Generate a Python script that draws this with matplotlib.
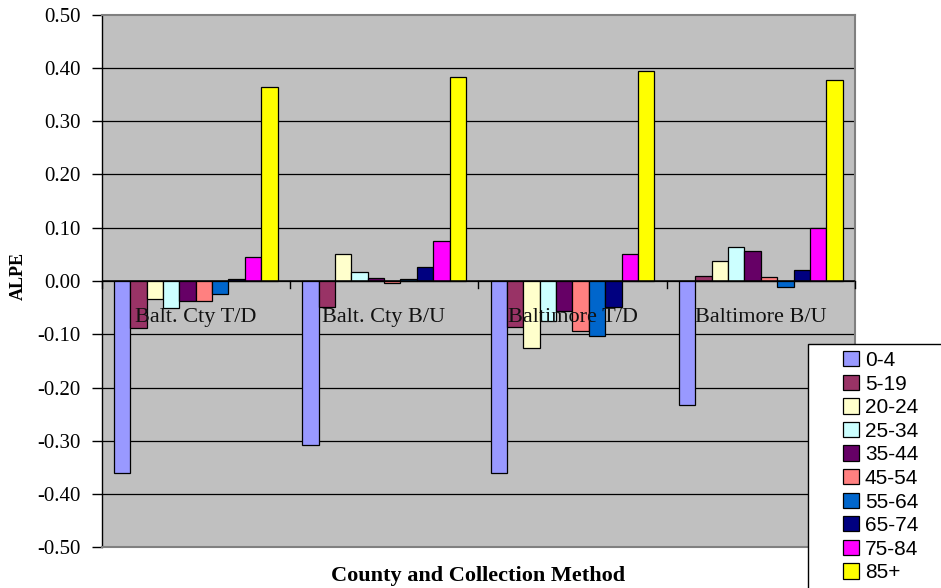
import numpy as np
import matplotlib
matplotlib.use("Agg")
import matplotlib.pyplot as plt
from matplotlib.patches import Patch, Rectangle

# data
categories = ["Balt. Cty T/D", "Balt. Cty B/U", "Baltimore T/D", "Baltimore B/U"]
age_groups = ["0-4", "5-19", "20-24", "25-34", "35-44", "45-54", "55-64", "65-74", "75-84", "85+"]
alpe = {
    "0-4":   [-0.360, -0.308, -0.360, -0.233],
    "5-19":  [-0.088, -0.049, -0.086, 0.009],
    "20-24": [-0.033, 0.050, -0.125, 0.038],
    "25-34": [-0.050, 0.017, -0.075, 0.064],
    "35-44": [-0.038, 0.006, -0.056, 0.056],
    "45-54": [-0.038, -0.004, -0.093, 0.008],
    "55-64": [-0.025, 0.004, -0.103, -0.011],
    "65-74": [0.003, 0.027, -0.049, 0.020],
    "75-84": [0.045, 0.076, 0.050, 0.099],
    "85+":   [0.365, 0.383, 0.395, 0.378],
}
yticks = [-0.5, -0.4, -0.3, -0.2, -0.1, 0.0, 0.1, 0.2, 0.3, 0.4, 0.5]

colors = ["#9999FF", "#993366", "#FFFFCC", "#CCFFFF", "#660066",
          "#FF8080", "#0066CC", "#000080", "#FF00FF", "#FFFF00"]

W, H = 941, 588
fig = plt.figure(figsize=(W / 100, H / 100), dpi=100)
ax = fig.add_axes((101.5 / W, 1 - 547.3 / H, (855 - 101.5) / W, (547.3 - 14.7) / H))
ax.set_facecolor("#C0C0C0")

n = len(age_groups)
bw = 1 / (n + 1.5)  # excel gap width 150%
x0 = np.arange(len(categories))
for i, (grp, col) in enumerate(zip(age_groups, colors)):
    xs = x0 + 0.75 * bw + i * bw
    ax.bar(xs, alpe[grp], width=bw, align="edge", color=col,
           edgecolor="black", linewidth=0.9, zorder=3)

ax.set_xlim(0, len(categories))
ax.set_ylim(-0.5, 0.5)

# gridlines
for v in yticks[1:-1]:
    ax.axhline(v, color="black", lw=0.9, zorder=1)
ax.axhline(0, color="black", lw=1.1, zorder=4)
for k in range(len(categories) + 1):
    ax.plot([k, k], [0, -0.013], color="black", lw=1, zorder=4, clip_on=False)

# category labels sit inside the plot
serif = ["Liberation Serif", "DejaVu Serif"]
for k, cat in enumerate(categories):
    ax.text(k + 0.5, -0.0765, cat, ha="center", va="baseline",
            fontsize=16, family=serif, color="#111111", zorder=5)

ax.set_xticks([])
ax.set_yticks(yticks)
ax.set_yticklabels([f"{v:.2f}" for v in yticks], family=serif, fontsize=15)
ax.tick_params(axis="y", direction="out", length=7, width=1, pad=8)

for side in ["top", "right", "bottom"]:
    ax.spines[side].set_color("#808080")
    ax.spines[side].set_linewidth(1.5)
ax.spines["left"].set_color("black")
ax.spines["left"].set_linewidth(1)

fig.text(18.5 / W, 1 - 276 / H, "ALPE", rotation=90, ha="center", va="center",
         family=serif, fontweight="bold", fontsize=13)
fig.text(478 / W, 1 - 576 / H, "County and Collection Method", ha="center", va="center",
         family=serif, fontweight="bold", fontsize=16)

# legend box runs off the right and bottom edge like in the original
box = Rectangle((808 / W, -0.01), (W + 10 - 808) / W, 1.01 - 344 / H,
                transform=fig.transFigure, facecolor="white", edgecolor="black",
                linewidth=1, zorder=10)
fig.patches.append(box)

handles = [Patch(facecolor=c, edgecolor="black", linewidth=0.9) for c in colors]
leg = fig.legend(handles, age_groups, loc="upper left",
                 bbox_to_anchor=(843 / W, 1 - 351 / H), bbox_transform=fig.transFigure,
                 frameon=False, borderaxespad=0, borderpad=0,
                 prop={"family": ["Liberation Sans", "DejaVu Sans"], "size": 15},
                 handlelength=0.75, handleheight=0.75, handletextpad=0.3,
                 labelspacing=0.22)
leg.set_zorder(11)

fig.savefig("out.png", dpi=100)
